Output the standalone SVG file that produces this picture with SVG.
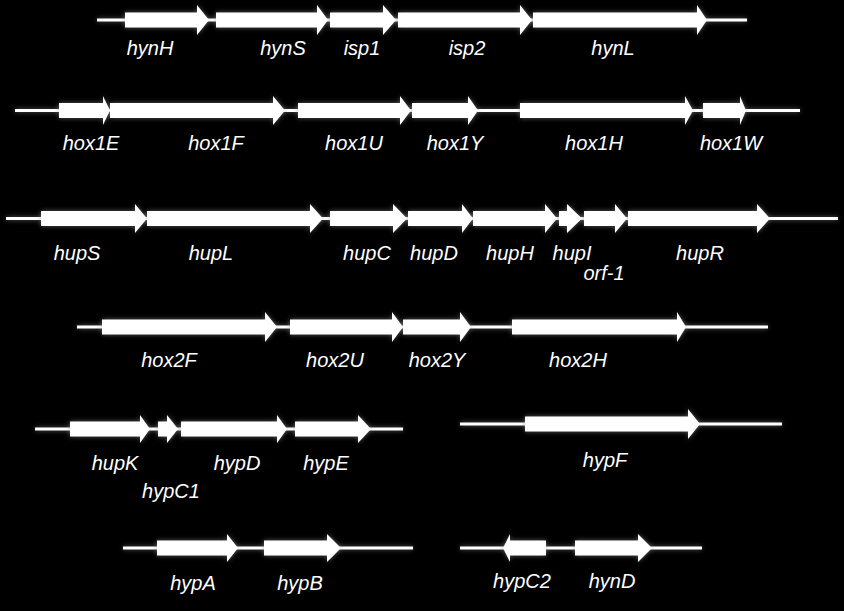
<svg xmlns="http://www.w3.org/2000/svg" width="844" height="611" viewBox="0 0 844 611">
<style>
.bb{stroke:#fff;stroke-width:3;fill:none}
.g{fill:#fff}
text{font-family:"Liberation Sans",Arial,sans-serif;font-style:italic;font-size:20px;fill:#fff;text-anchor:middle}
</style>
<defs>
<filter id="glow" x="-10%" y="-50%" width="120%" height="200%">
<feGaussianBlur in="SourceAlpha" stdDeviation="2.5" result="b"/>
<feFlood flood-color="#9a9a9a" flood-opacity="0.6"/>
<feComposite in2="b" operator="in" result="s"/>
<feMerge><feMergeNode in="s"/><feMergeNode in="SourceGraphic"/></feMerge>
</filter>
</defs>
<rect width="844" height="611" fill="#000"/>
<g id="connectors" filter="url(#glow)">
<line class="bb" x1="97" y1="20" x2="747" y2="20"/>
<line class="bb" x1="15" y1="110.5" x2="800" y2="110.5"/>
<line class="bb" x1="6" y1="218.5" x2="838" y2="218.5"/>
<line class="bb" x1="77" y1="327" x2="768" y2="327"/>
<line class="bb" x1="35" y1="429" x2="403" y2="429"/>
<line class="bb" x1="460" y1="424" x2="782" y2="424"/>
<line class="bb" x1="123" y1="548" x2="413" y2="548"/>
<line class="bb" x1="460" y1="548" x2="702" y2="548"/>
</g>
<g filter="url(#glow)">
<!-- row 1 -->
<g id="hynH"><path class="g" d="M125,12.5H197V5L209,20L197,35V27.5H125Z"/></g>
<g id="hynS"><path class="g" d="M216,12.5H317V5L328,20L317,35V27.5H216Z"/></g>
<g id="isp1"><path class="g" d="M330,12.5H383V5L396,20L383,35V27.5H330Z"/></g>
<g id="isp2"><path class="g" d="M398,12.5H520V5L532,20L520,35V27.5H398Z"/></g>
<g id="hynL"><path class="g" d="M533,12.5H697V5L707,20L697,35V27.5H533Z"/></g>
<!-- row 2 -->
<g id="hox1E"><path class="g" d="M59,103H103V96L110,110.5L103,125V118H59Z"/></g>
<g id="hox1F"><path class="g" d="M110,103H273V96L285,110.5L273,125V118H110Z"/></g>
<g id="hox1U"><path class="g" d="M298,103H400V96L411,110.5L400,125V118H298Z"/></g>
<g id="hox1Y"><path class="g" d="M412,103H468V96L478,110.5L468,125V118H412Z"/></g>
<g id="hox1H"><path class="g" d="M520,103H685V96L693,110.5L685,125V118H520Z"/></g>
<g id="hox1W"><path class="g" d="M703,103H740V96L746,110.5L740,125V118H703Z"/></g>
<!-- row 3 -->
<g id="hupS"><path class="g" d="M41,211H135V204L147,218.5L135,233V226H41Z"/></g>
<g id="hupL"><path class="g" d="M147,211H310V204L323,218.5L310,233V226H147Z"/></g>
<g id="hupC"><path class="g" d="M330,211H393V204L407,218.5L393,233V226H330Z"/></g>
<g id="hupD"><path class="g" d="M408,211H462V204L473,218.5L462,233V226H408Z"/></g>
<g id="hupH"><path class="g" d="M473,211H545V204L557,218.5L545,233V226H473Z"/></g>
<g id="hupI"><path class="g" d="M559,211H567V204L582,218.5L567,233V226H559Z"/></g>
<g id="orf-1"><path class="g" d="M584,211H615V204L627,218.5L615,233V226H584Z"/></g>
<g id="hupR"><path class="g" d="M628,211H757V204L770,218.5L757,233V226H628Z"/></g>
<!-- row 4 -->
<g id="hox2F"><path class="g" d="M102,319.5H265V312L277,327L265,342V334.5H102Z"/></g>
<g id="hox2U"><path class="g" d="M290,319.5H392V312L403,327L392,342V334.5H290Z"/></g>
<g id="hox2Y"><path class="g" d="M403,319.5H460V312L471,327L460,342V334.5H403Z"/></g>
<g id="hox2H"><path class="g" d="M512,319.5H677V312L686,327L677,342V334.5H512Z"/></g>
<!-- row 5 -->
<g id="hupK"><path class="g" d="M70,421.5H140V415L150,429L140,443V436.5H70Z"/></g>
<g id="hypC1"><path class="g" d="M158,421.5H167V415L178,429L167,443V436.5H158Z"/></g>
<g id="hypD"><path class="g" d="M181,421.5H277V415L287,429L277,443V436.5H181Z"/></g>
<g id="hypE"><path class="g" d="M295,421.5H358V415L371,429L358,443V436.5H295Z"/></g>
<g id="hypF"><path class="g" d="M525,416.5H688V409L700,424L688,439V431.5H525Z"/></g>
<!-- row 6 -->
<g id="hypA"><path class="g" d="M157,540.5H227V534L238,548L227,562V555.5H157Z"/></g>
<g id="hypB"><path class="g" d="M264,540.5H327V534L341,548L327,562V555.5H264Z"/></g>
<g id="hypC2"><path class="g" d="M546,540.5H510V534L503,548L510,562V555.5H546Z"/></g>
<g id="hynD"><path class="g" d="M575,540.5H638V534L652,548L638,562V555.5H575Z"/></g>
</g>
<g id="labels">
<text x="150" y="55">hynH</text>
<text x="283" y="55">hynS</text>
<text x="362" y="55">isp1</text>
<text x="467" y="55">isp2</text>
<text x="613" y="55">hynL</text>
<text x="91" y="150">hox1E</text>
<text x="216" y="150">hox1F</text>
<text x="354" y="150">hox1U</text>
<text x="455" y="150">hox1Y</text>
<text x="594" y="150">hox1H</text>
<text x="731" y="150">hox1W</text>
<text x="77" y="260">hupS</text>
<text x="211" y="260">hupL</text>
<text x="367" y="260">hupC</text>
<text x="434" y="260">hupD</text>
<text x="510" y="260">hupH</text>
<text x="572" y="260">hupI</text>
<text x="604" y="280">orf-1</text>
<text x="700" y="260">hupR</text>
<text x="169" y="367">hox2F</text>
<text x="335" y="367">hox2U</text>
<text x="437" y="367">hox2Y</text>
<text x="578" y="367">hox2H</text>
<text x="115" y="470">hupK</text>
<text x="171" y="498">hypC1</text>
<text x="237" y="470">hypD</text>
<text x="326" y="470">hypE</text>
<text x="605" y="467">hypF</text>
<text x="193" y="590">hypA</text>
<text x="300" y="590">hypB</text>
<text x="522" y="588">hypC2</text>
<text x="612" y="588">hynD</text>
</g>
</svg>
